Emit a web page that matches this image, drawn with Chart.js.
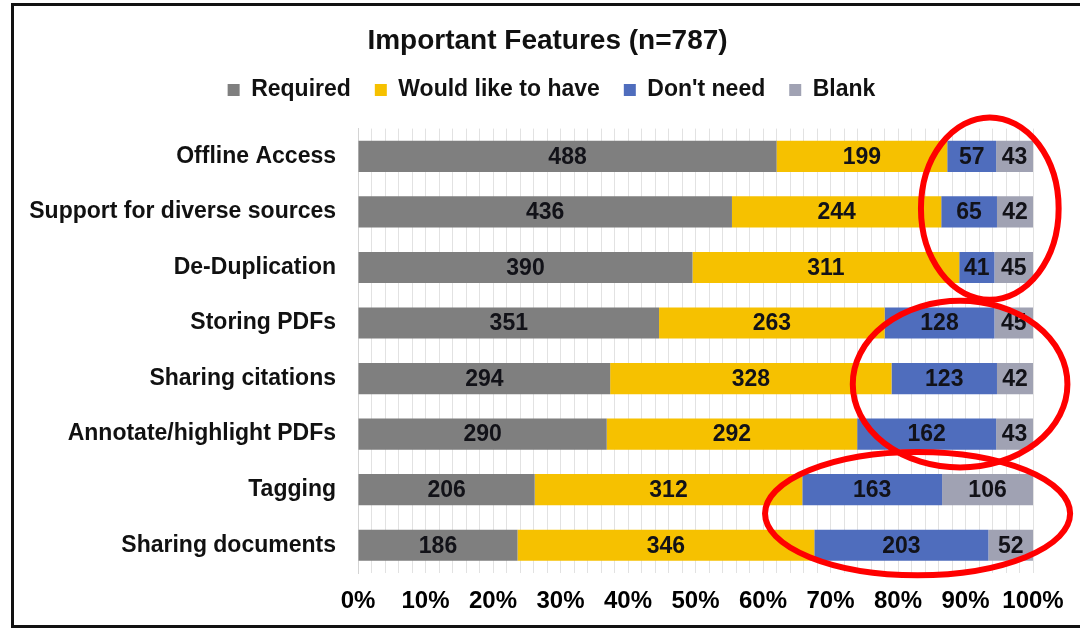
<!DOCTYPE html>
<html>
<head>
<meta charset="utf-8">
<script src="https://cdn.jsdelivr.net/npm/chart.js@4/dist/chart.umd.min.js"></script>
<style>
  html, body { margin: 0; padding: 0; background: #fff; }
  #wrap { position: relative; width: 1080px; height: 628px; overflow: hidden; }
  #frame { position: absolute; left: 11px; top: 3px; width: 1120px; height: 619px;
           border: 3px solid #111; pointer-events: none; }
</style>
</head>
<body>
<div id="wrap">
  <canvas id="featureChart" width="1080" height="628"></canvas>
  <div id="frame"></div>
</div>
<script>
const features = ['Offline Access', 'Support for diverse sources', 'De-Duplication', 'Storing PDFs',
                  'Sharing citations', 'Annotate/highlight PDFs', 'Tagging', 'Sharing documents'];
const required   = [488, 436, 390, 351, 294, 290, 206, 186];
const wouldLike  = [199, 244, 311, 263, 328, 292, 312, 346];
const dontNeed   = [57, 65, 41, 128, 123, 162, 163, 203];
const blank      = [43, 42, 45, 45, 42, 43, 106, 52];
const tickValues = [0, 10, 20, 30, 40, 50, 60, 70, 80, 90, 100];

// red circles drawn over the chart, in axis units (percent / category index)
const highlights = [
    { cx: 93.6, cy: 0.94, rx: 10.2, ry: 1.64 },
    { cx: 89.2, cy: 4.10, rx: 15.9, ry: 1.50 },
    { cx: 82.9, cy: 6.43, rx: 22.6, ry: 1.11 }
];

const FONT = '"Liberation Sans", Arial, sans-serif';

function toPercent(arr) {
    return arr.map((v, i) => v / (required[i] + wouldLike[i] + dontNeed[i] + blank[i]) * 100);
}

function makeSet(label, counts, color) {
    return {
        label: label,
        data: toPercent(counts),
        counts: counts,
        backgroundColor: color,
        borderWidth: 0,
        categoryPercentage: 1,
        barPercentage: 0.56
    };
}

const countLabels = {
    id: 'countLabels',
    afterDatasetsDraw(chart) {
        const ctx = chart.ctx;
        ctx.save();
        ctx.font = 'bold 23px ' + FONT;
        ctx.fillStyle = '#121218';
        ctx.textAlign = 'center';
        ctx.textBaseline = 'middle';
        chart.data.datasets.forEach((ds, i) => {
            chart.getDatasetMeta(i).data.forEach((bar, j) => {
                ctx.fillText(ds.counts[j], (bar.x + bar.base) / 2, bar.y + 1);
            });
        });
        ctx.restore();
    }
};

const redCircles = {
    id: 'redCircles',
    afterDraw(chart) {
        const ctx = chart.ctx;
        const x = chart.scales.x, y = chart.scales.y;
        ctx.save();
        ctx.strokeStyle = '#ff0000';
        ctx.lineWidth = 6;
        highlights.forEach(h => {
            const cx = x.getPixelForValue(h.cx);
            const cy = y.getPixelForValue(h.cy);
            const rx = x.getPixelForValue(h.cx + h.rx) - cx;
            const ry = y.getPixelForValue(h.cy + h.ry) - cy;
            ctx.beginPath();
            ctx.ellipse(cx, cy, rx, ry, 0, 0, Math.PI * 2);
            ctx.stroke();
        });
        ctx.restore();
    }
};

// more room under the legend, and title/legend centred a bit to the right
const headerTweak = {
    id: 'headerTweak',
    afterInit(chart) {
        const lg = chart.legend;
        const fit = lg.fit.bind(lg);
        lg.fit = function () { fit(); this.height += 17; };
    },
    afterLayout(chart) {
        chart.titleBlock.left = 62;
        chart.legend.left = 70;
    }
};

const ctx = document.getElementById('featureChart').getContext('2d');
new Chart(ctx, {
    type: 'bar',
    data: {
        labels: features,
        datasets: [
            makeSet('Required', required, '#7f7f7f'),
            makeSet('Would like to have', wouldLike, '#f6c100'),
            makeSet("Don't need", dontNeed, '#4f6dbd'),
            makeSet('Blank', blank, '#a0a2b3')
        ]
    },
    options: {
        indexAxis: 'y',
        responsive: false,
        animation: false,
        layout: { padding: { left: 0, right: 47, top: 0, bottom: 0 } },
        plugins: {
            title: {
                display: true,
                text: 'Important Features (n=787)',
                color: '#111',
                font: { family: FONT, size: 28, weight: 'bold' },
                padding: { top: 24, bottom: -3 }
            },
            legend: {
                position: 'top',
                labels: {
                    color: '#111',
                    font: { family: FONT, size: 23, weight: 'bold' },
                    boxWidth: 12,
                    boxHeight: 12,
                    padding: 24
                }
            },
            tooltip: { enabled: false }
        },
        scales: {
            x: {
                stacked: true,
                min: 0,
                max: 100,
                grid: { color: '#e2e2e2', drawTicks: false },
                border: { display: false },
                afterBuildTicks: s => {
                    const t = [];
                    for (let v = 0; v <= 100; v += 2) t.push({ value: v });
                    s.ticks = t;
                },
                ticks: {
                    autoSkip: false,
                    maxRotation: 0,
                    padding: 14,
                    color: '#000',
                    font: { family: FONT, size: 24, weight: 'bold' },
                    callback: v => tickValues.includes(v) ? v + '%' : ''
                },
                afterFit: s => { s.height = 55; }
            },
            y: {
                stacked: true,
                grid: { display: false, drawTicks: false },
                border: { color: '#d4d4d4' },
                ticks: {
                    padding: 22,
                    color: '#111',
                    font: { family: FONT, size: 23, weight: 'bold' }
                },
                afterFit: s => { s.width = 358; }
            }
        }
    },
    plugins: [countLabels, redCircles, headerTweak]
});
</script>
</body>
</html>
